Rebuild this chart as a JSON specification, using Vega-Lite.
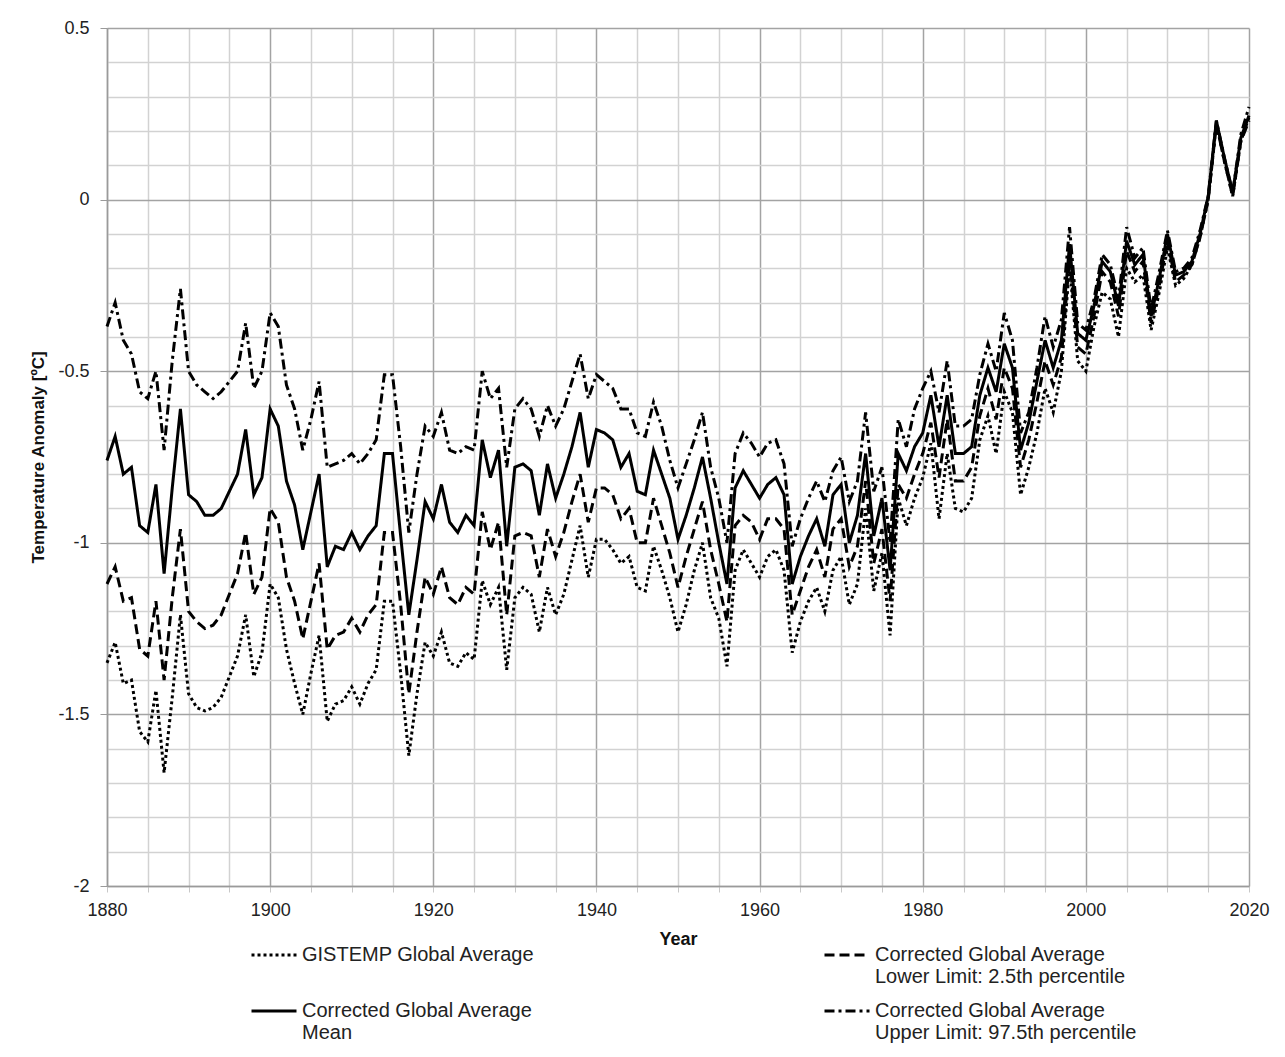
{
  "$schema": "https://vega.github.io/schema/vega-lite/v6.json",
  "width": 1142,
  "height": 858,
  "autosize": {"type": "none"},
  "padding": {"left": 107, "top": 28, "right": 36, "bottom": 171},
  "background": "white",
  "config": {"font": "Liberation Sans", "view": {"stroke": null}},
  "data": {"values": [
    {"yr":1880,"g":-1.35,"m":-0.76,"lo":-1.12,"up":-0.37},
    {"yr":1881,"g":-1.29,"m":-0.69,"lo":-1.07,"up":-0.30},
    {"yr":1882,"g":-1.41,"m":-0.80,"lo":-1.17,"up":-0.41},
    {"yr":1883,"g":-1.40,"m":-0.78,"lo":-1.16,"up":-0.45},
    {"yr":1884,"g":-1.55,"m":-0.95,"lo":-1.31,"up":-0.56},
    {"yr":1885,"g":-1.58,"m":-0.97,"lo":-1.33,"up":-0.58},
    {"yr":1886,"g":-1.43,"m":-0.83,"lo":-1.17,"up":-0.50},
    {"yr":1887,"g":-1.67,"m":-1.09,"lo":-1.40,"up":-0.73},
    {"yr":1888,"g":-1.45,"m":-0.84,"lo":-1.16,"up":-0.47},
    {"yr":1889,"g":-1.21,"m":-0.61,"lo":-0.96,"up":-0.26},
    {"yr":1890,"g":-1.44,"m":-0.86,"lo":-1.20,"up":-0.50},
    {"yr":1891,"g":-1.48,"m":-0.88,"lo":-1.23,"up":-0.54},
    {"yr":1892,"g":-1.49,"m":-0.92,"lo":-1.25,"up":-0.56},
    {"yr":1893,"g":-1.48,"m":-0.92,"lo":-1.24,"up":-0.58},
    {"yr":1894,"g":-1.45,"m":-0.90,"lo":-1.21,"up":-0.56},
    {"yr":1895,"g":-1.39,"m":-0.85,"lo":-1.15,"up":-0.53},
    {"yr":1896,"g":-1.33,"m":-0.80,"lo":-1.09,"up":-0.50},
    {"yr":1897,"g":-1.21,"m":-0.67,"lo":-0.97,"up":-0.36},
    {"yr":1898,"g":-1.39,"m":-0.86,"lo":-1.15,"up":-0.55},
    {"yr":1899,"g":-1.32,"m":-0.81,"lo":-1.10,"up":-0.50},
    {"yr":1900,"g":-1.12,"m":-0.61,"lo":-0.90,"up":-0.33},
    {"yr":1901,"g":-1.16,"m":-0.66,"lo":-0.94,"up":-0.37},
    {"yr":1902,"g":-1.31,"m":-0.82,"lo":-1.10,"up":-0.54},
    {"yr":1903,"g":-1.41,"m":-0.89,"lo":-1.17,"up":-0.61},
    {"yr":1904,"g":-1.50,"m":-1.02,"lo":-1.28,"up":-0.73},
    {"yr":1905,"g":-1.38,"m":-0.91,"lo":-1.17,"up":-0.64},
    {"yr":1906,"g":-1.27,"m":-0.80,"lo":-1.06,"up":-0.53},
    {"yr":1907,"g":-1.52,"m":-1.07,"lo":-1.31,"up":-0.78},
    {"yr":1908,"g":-1.47,"m":-1.01,"lo":-1.27,"up":-0.77},
    {"yr":1909,"g":-1.46,"m":-1.02,"lo":-1.26,"up":-0.76},
    {"yr":1910,"g":-1.42,"m":-0.97,"lo":-1.22,"up":-0.74},
    {"yr":1911,"g":-1.47,"m":-1.02,"lo":-1.26,"up":-0.77},
    {"yr":1912,"g":-1.41,"m":-0.98,"lo":-1.21,"up":-0.74},
    {"yr":1913,"g":-1.37,"m":-0.95,"lo":-1.18,"up":-0.70},
    {"yr":1914,"g":-1.17,"m":-0.74,"lo":-0.97,"up":-0.51},
    {"yr":1915,"g":-1.17,"m":-0.74,"lo":-0.97,"up":-0.51},
    {"yr":1916,"g":-1.38,"m":-0.98,"lo":-1.18,"up":-0.72},
    {"yr":1917,"g":-1.62,"m":-1.21,"lo":-1.44,"up":-0.97},
    {"yr":1918,"g":-1.44,"m":-1.05,"lo":-1.26,"up":-0.80},
    {"yr":1919,"g":-1.29,"m":-0.88,"lo":-1.10,"up":-0.66},
    {"yr":1920,"g":-1.33,"m":-0.93,"lo":-1.15,"up":-0.69},
    {"yr":1921,"g":-1.26,"m":-0.83,"lo":-1.07,"up":-0.62},
    {"yr":1922,"g":-1.35,"m":-0.94,"lo":-1.16,"up":-0.73},
    {"yr":1923,"g":-1.36,"m":-0.97,"lo":-1.18,"up":-0.74},
    {"yr":1924,"g":-1.32,"m":-0.92,"lo":-1.13,"up":-0.72},
    {"yr":1925,"g":-1.34,"m":-0.95,"lo":-1.15,"up":-0.73},
    {"yr":1926,"g":-1.11,"m":-0.70,"lo":-0.91,"up":-0.50},
    {"yr":1927,"g":-1.18,"m":-0.81,"lo":-1.02,"up":-0.58},
    {"yr":1928,"g":-1.13,"m":-0.73,"lo":-0.94,"up":-0.55},
    {"yr":1929,"g":-1.37,"m":-1.01,"lo":-1.21,"up":-0.78},
    {"yr":1930,"g":-1.16,"m":-0.78,"lo":-0.98,"up":-0.61},
    {"yr":1931,"g":-1.13,"m":-0.77,"lo":-0.97,"up":-0.58},
    {"yr":1932,"g":-1.15,"m":-0.79,"lo":-0.98,"up":-0.61},
    {"yr":1933,"g":-1.26,"m":-0.92,"lo":-1.10,"up":-0.69},
    {"yr":1934,"g":-1.13,"m":-0.77,"lo":-0.96,"up":-0.60},
    {"yr":1935,"g":-1.21,"m":-0.87,"lo":-1.04,"up":-0.66},
    {"yr":1936,"g":-1.15,"m":-0.80,"lo":-0.97,"up":-0.61},
    {"yr":1937,"g":-1.05,"m":-0.72,"lo":-0.88,"up":-0.53},
    {"yr":1938,"g":-0.95,"m":-0.62,"lo":-0.80,"up":-0.45},
    {"yr":1939,"g":-1.10,"m":-0.78,"lo":-0.94,"up":-0.58},
    {"yr":1940,"g":-0.99,"m":-0.67,"lo":-0.84,"up":-0.51},
    {"yr":1941,"g":-0.99,"m":-0.68,"lo":-0.84,"up":-0.53},
    {"yr":1942,"g":-1.02,"m":-0.70,"lo":-0.86,"up":-0.55},
    {"yr":1943,"g":-1.06,"m":-0.78,"lo":-0.93,"up":-0.61},
    {"yr":1944,"g":-1.04,"m":-0.74,"lo":-0.90,"up":-0.61},
    {"yr":1945,"g":-1.13,"m":-0.85,"lo":-1.00,"up":-0.68},
    {"yr":1946,"g":-1.14,"m":-0.86,"lo":-1.00,"up":-0.69},
    {"yr":1947,"g":-1.01,"m":-0.73,"lo":-0.87,"up":-0.59},
    {"yr":1948,"g":-1.08,"m":-0.80,"lo":-0.95,"up":-0.66},
    {"yr":1949,"g":-1.16,"m":-0.87,"lo":-1.03,"up":-0.76},
    {"yr":1950,"g":-1.26,"m":-0.99,"lo":-1.13,"up":-0.84},
    {"yr":1951,"g":-1.18,"m":-0.92,"lo":-1.04,"up":-0.77},
    {"yr":1952,"g":-1.08,"m":-0.84,"lo":-0.96,"up":-0.70},
    {"yr":1953,"g":-1.00,"m":-0.75,"lo":-0.88,"up":-0.62},
    {"yr":1954,"g":-1.16,"m":-0.87,"lo":-1.02,"up":-0.78},
    {"yr":1955,"g":-1.22,"m":-1.00,"lo":-1.12,"up":-0.87},
    {"yr":1956,"g":-1.36,"m":-1.12,"lo":-1.23,"up":-1.00},
    {"yr":1957,"g":-1.08,"m":-0.84,"lo":-0.95,"up":-0.74},
    {"yr":1958,"g":-1.02,"m":-0.79,"lo":-0.92,"up":-0.68},
    {"yr":1959,"g":-1.06,"m":-0.83,"lo":-0.94,"up":-0.71},
    {"yr":1960,"g":-1.10,"m":-0.87,"lo":-0.99,"up":-0.75},
    {"yr":1961,"g":-1.04,"m":-0.83,"lo":-0.93,"up":-0.71},
    {"yr":1962,"g":-1.02,"m":-0.81,"lo":-0.93,"up":-0.70},
    {"yr":1963,"g":-1.08,"m":-0.86,"lo":-0.96,"up":-0.77},
    {"yr":1964,"g":-1.32,"m":-1.12,"lo":-1.21,"up":-1.01},
    {"yr":1965,"g":-1.23,"m":-1.04,"lo":-1.14,"up":-0.93},
    {"yr":1966,"g":-1.17,"m":-0.98,"lo":-1.07,"up":-0.87},
    {"yr":1967,"g":-1.13,"m":-0.93,"lo":-1.02,"up":-0.82},
    {"yr":1968,"g":-1.20,"m":-1.01,"lo":-1.10,"up":-0.88},
    {"yr":1969,"g":-1.08,"m":-0.86,"lo":-0.96,"up":-0.79},
    {"yr":1970,"g":-1.04,"m":-0.83,"lo":-0.93,"up":-0.75},
    {"yr":1971,"g":-1.18,"m":-1.00,"lo":-1.07,"up":-0.88},
    {"yr":1972,"g":-1.12,"m":-0.92,"lo":-1.01,"up":-0.82},
    {"yr":1973,"g":-0.90,"m":-0.74,"lo":-0.82,"up":-0.62},
    {"yr":1974,"g":-1.14,"m":-0.98,"lo":-1.06,"up":-0.85},
    {"yr":1975,"g":-1.03,"m":-0.87,"lo":-0.96,"up":-0.78},
    {"yr":1976,"g":-1.27,"m":-1.08,"lo":-1.17,"up":-1.00},
    {"yr":1977,"g":-0.87,"m":-0.74,"lo":-0.83,"up":-0.64},
    {"yr":1978,"g":-0.95,"m":-0.79,"lo":-0.87,"up":-0.72},
    {"yr":1979,"g":-0.87,"m":-0.72,"lo":-0.80,"up":-0.61},
    {"yr":1980,"g":-0.81,"m":-0.68,"lo":-0.74,"up":-0.55},
    {"yr":1981,"g":-0.71,"m":-0.57,"lo":-0.65,"up":-0.50},
    {"yr":1982,"g":-0.93,"m":-0.72,"lo":-0.81,"up":-0.62},
    {"yr":1983,"g":-0.74,"m":-0.57,"lo":-0.64,"up":-0.47},
    {"yr":1984,"g":-0.90,"m":-0.74,"lo":-0.82,"up":-0.66},
    {"yr":1985,"g":-0.91,"m":-0.74,"lo":-0.82,"up":-0.66},
    {"yr":1986,"g":-0.87,"m":-0.72,"lo":-0.78,"up":-0.64},
    {"yr":1987,"g":-0.70,"m":-0.57,"lo":-0.63,"up":-0.51},
    {"yr":1988,"g":-0.63,"m":-0.49,"lo":-0.55,"up":-0.42},
    {"yr":1989,"g":-0.74,"m":-0.56,"lo":-0.64,"up":-0.50},
    {"yr":1990,"g":-0.56,"m":-0.42,"lo":-0.49,"up":-0.33},
    {"yr":1991,"g":-0.62,"m":-0.49,"lo":-0.55,"up":-0.41},
    {"yr":1992,"g":-0.86,"m":-0.73,"lo":-0.78,"up":-0.68},
    {"yr":1993,"g":-0.78,"m":-0.65,"lo":-0.70,"up":-0.62},
    {"yr":1994,"g":-0.68,"m":-0.53,"lo":-0.59,"up":-0.49},
    {"yr":1995,"g":-0.55,"m":-0.41,"lo":-0.47,"up":-0.34},
    {"yr":1996,"g":-0.62,"m":-0.49,"lo":-0.54,"up":-0.43},
    {"yr":1997,"g":-0.50,"m":-0.41,"lo":-0.46,"up":-0.35},
    {"yr":1998,"g":-0.19,"m":-0.13,"lo":-0.17,"up":-0.08},
    {"yr":1999,"g":-0.47,"m":-0.39,"lo":-0.43,"up":-0.36},
    {"yr":2000,"g":-0.50,"m":-0.41,"lo":-0.45,"up":-0.38},
    {"yr":2001,"g":-0.37,"m":-0.31,"lo":-0.34,"up":-0.29},
    {"yr":2002,"g":-0.27,"m":-0.18,"lo":-0.21,"up":-0.16},
    {"yr":2003,"g":-0.29,"m":-0.21,"lo":-0.24,"up":-0.19},
    {"yr":2004,"g":-0.40,"m":-0.31,"lo":-0.34,"up":-0.29},
    {"yr":2005,"g":-0.20,"m":-0.12,"lo":-0.15,"up":-0.08},
    {"yr":2006,"g":-0.24,"m":-0.19,"lo":-0.21,"up":-0.17},
    {"yr":2007,"g":-0.22,"m":-0.16,"lo":-0.18,"up":-0.14},
    {"yr":2008,"g":-0.38,"m":-0.34,"lo":-0.36,"up":-0.32},
    {"yr":2009,"g":-0.27,"m":-0.23,"lo":-0.25,"up":-0.21},
    {"yr":2010,"g":-0.14,"m":-0.10,"lo":-0.12,"up":-0.09},
    {"yr":2011,"g":-0.25,"m":-0.22,"lo":-0.24,"up":-0.21},
    {"yr":2012,"g":-0.23,"m":-0.21,"lo":-0.22,"up":-0.20},
    {"yr":2013,"g":-0.19,"m":-0.18,"lo":-0.19,"up":-0.17},
    {"yr":2014,"g":-0.11,"m":-0.10,"lo":-0.11,"up":-0.09},
    {"yr":2015,"g":0.00,"m":0.01,"lo":0.00,"up":0.01},
    {"yr":2016,"g":0.22,"m":0.23,"lo":0.22,"up":0.23},
    {"yr":2017,"g":0.11,"m":0.12,"lo":0.11,"up":0.12},
    {"yr":2018,"g":0.01,"m":0.02,"lo":0.01,"up":0.02},
    {"yr":2019,"g":0.17,"m":0.18,"lo":0.17,"up":0.19},
    {"yr":2020,"g":0.24,"m":0.245,"lo":0.23,"up":0.27}
  ]},
  "transform": [{"fold": ["g", "lo", "up", "m"], "as": ["series", "value"]}],
  "mark": {"type": "line", "stroke": "black", "strokeWidth": 3},
  "encoding": {
    "x": {
      "field": "yr", "type": "quantitative",
      "scale": {"domain": [1880, 2020], "nice": false, "zero": false},
      "axis": {
        "title": "Year",
        "values": [1880,1885,1890,1895,1900,1905,1910,1915,1920,1925,1930,1935,1940,1945,1950,1955,1960,1965,1970,1975,1980,1985,1990,1995,2000,2005,2010,2015,2020],
        "format": "d",
        "labelExpr": "datum.value % 20 === 0 ? datum.label : ''",
        "labelOverlap": false,
        "labelFlush": false,
        "grid": true,
        "gridColor": {"condition": {"test": "datum.value % 20 === 0", "value": "#a3a3a3"}, "value": "#d2d2d2"},
        "gridWidth": 1.5,
        "domainColor": "#9a9a9a",
        "domainWidth": 1.5,
        "tickColor": "#c8c8c8",
        "tickSize": 6,
        "labelFontSize": 18,
        "labelColor": "#222222",
        "labelPadding": 9,
        "titleFontSize": 18,
        "titleFontWeight": "bold",
        "titleColor": "#111111",
        "titlePadding": 11
      }
    },
    "y": {
      "field": "value", "type": "quantitative",
      "scale": {"domain": [-2, 0.5], "nice": false, "zero": false},
      "axis": {
        "title": "Temperature Anomaly [ºC]",
        "values": [-2,-1.9,-1.8,-1.7,-1.6,-1.5,-1.4,-1.3,-1.2,-1.1,-1,-0.9,-0.8,-0.7,-0.6,-0.5,-0.4,-0.3,-0.2,-0.1,0,0.1,0.2,0.3,0.4,0.5],
        "labelExpr": "indexof([-2,-1.5,-1,-0.5,0,0.5], datum.value) >= 0 ? '' + datum.value : ''",
        "labelOverlap": false,
        "labelFlush": false,
        "grid": true,
        "gridColor": {"condition": {"test": "indexof([-2,-1.5,-1,-0.5,0,0.5], datum.value) >= 0", "value": "#a3a3a3"}, "value": "#d2d2d2"},
        "gridWidth": 1.5,
        "domainColor": "#9a9a9a",
        "domainWidth": 1.5,
        "tickColor": {"condition": {"test": "indexof([-2,-1.5,-1,-0.5,0,0.5], datum.value) >= 0", "value": "#9a9a9a"}, "value": "transparent"},
        "tickSize": 7,
        "labelFontSize": 18,
        "labelColor": "#222222",
        "labelPadding": 11,
        "titleFontSize": 17,
        "titleFontWeight": "bold",
        "titleColor": "#111111",
        "titlePadding": 10
      }
    },
    "strokeDash": {
      "field": "series", "type": "nominal",
      "scale": {"domain": ["g", "lo", "m", "up"], "range": [[3, 3], [10, 5], [1, 0], [10, 4, 3, 4]]},
      "legend": {
        "orient": "none",
        "legendX": 143,
        "legendY": 903,
        "columns": 2,
        "direction": "horizontal",
        "title": null,
        "symbolType": "stroke",
        "symbolSize": 2025,
        "symbolStrokeWidth": 3,
        "symbolStrokeColor": "black",
        "labelFontSize": 20,
        "labelColor": "#222222",
        "labelLimit": 400,
        "labelOffset": 4,
        "columnPadding": 282,
        "rowPadding": -9,
        "labelExpr": "datum.label == 'g' ? ['GISTEMP Global Average', ''] : datum.label == 'lo' ? ['Corrected Global Average', 'Lower Limit: 2.5th percentile'] : datum.label == 'm' ? ['Corrected Global Average', 'Mean'] : ['Corrected Global Average', 'Upper Limit: 97.5th percentile']"
      }
    }
  }
}
